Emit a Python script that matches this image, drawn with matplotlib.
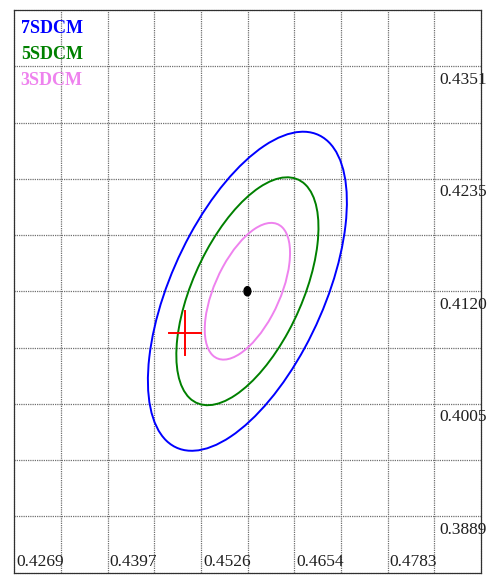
import numpy as np
import matplotlib
matplotlib.use("Agg")
import matplotlib.pyplot as plt
from matplotlib.patches import Ellipse

# chromaticity target and measured point
center_xy = (0.4590, 0.4120)
measured_xy = (0.4504, 0.4077)

# one-step MacAdam ellipse (semi axes, rotation in degrees)
step_a = 0.00271
step_b = 0.00140
step_theta = 53.9

sdcm_steps = [7, 5, 3]
sdcm_names = ["7SDCM", "5SDCM", "3SDCM"]
sdcm_colors = ["#0000ff", "#008000", "#ee82ee"]

# grid / labels
x_min, x_cell = 0.42691, 0.006425
y_min, y_cell = 0.383125, 0.005775
n_cells = 10
x_labels = ["0.4269", "0.4397", "0.4526", "0.4654", "0.4783"]
y_labels = ["0.3889", "0.4005", "0.4120", "0.4235", "0.4351"]

plt.rcParams['font.family'] = ['Liberation Serif', 'DejaVu Serif']

fig = plt.figure(figsize=(4.93, 5.75), dpi=100)
ax = fig.add_axes([14.3 / 493, 1 - 572.5 / 575, (481 - 14.3) / 493, (572.5 - 10) / 575])

x_lines = x_min + x_cell * np.arange(n_cells + 1)
y_lines = y_min + y_cell * np.arange(n_cells + 1)
ax.set_xlim(x_lines[0], x_lines[-1])
ax.set_ylim(y_lines[0], y_lines[-1])
ax.set_xticks([])
ax.set_yticks([])
dots = (0, (1, 0.8))
for xv in x_lines[1:-1]:
    ax.axvline(xv, color="#707070", lw=0.9, ls=dots, zorder=1)
for yv in y_lines[1:-1]:
    ax.axhline(yv, color="#707070", lw=0.9, ls=dots, zorder=1)
for sp in ax.spines.values():
    sp.set_linestyle(dots)
    sp.set_linewidth(0.9)
    sp.set_color("#303030")

# ellipses
for n, col in zip(sdcm_steps, sdcm_colors):
    ax.add_patch(Ellipse(center_xy, 2 * step_a * n, 2 * step_b * n, angle=step_theta,
                         fill=False, edgecolor=col, lw=1.4, zorder=3))

# center dot
ax.add_patch(Ellipse(center_xy, 0.00094, 0.00094, facecolor="black", edgecolor="black", zorder=4))

# measured point cross
arm = 0.00224
ax.plot([measured_xy[0] - arm, measured_xy[0] + arm], [measured_xy[1]] * 2, color="red", lw=1.4, zorder=5)
ax.plot([measured_xy[0]] * 2, [measured_xy[1] - arm, measured_xy[1] + arm], color="red", lw=1.4, zorder=5)

# axis labels drawn inside the grid
for i, lab in enumerate(x_labels):
    t = ax.annotate(lab, xy=(x_lines[2 * i], y_lines[0]), xytext=(2, 6.5), textcoords="offset pixels",
                    ha="left", va="baseline", fontsize=12.5, color="#202020")
    t.set_clip_on(True)
for i, lab in enumerate(y_labels):
    t = ax.annotate(lab, xy=(x_lines[9], y_lines[1 + 2 * i]), xytext=(5, -17.6), textcoords="offset pixels",
                    ha="left", va="baseline", fontsize=12.5, color="#202020")
    t.set_clip_on(True)

# legend text
for i, (name, col) in enumerate(zip(sdcm_names, sdcm_colors)):
    ax.annotate(name, xy=(0, 1), xycoords="axes fraction", xytext=(6.4, -23 - 26 * i),
                textcoords="offset pixels", ha="left", va="baseline",
                fontsize=13, fontweight="bold", color=col)

fig.savefig("out.png", dpi=100)
